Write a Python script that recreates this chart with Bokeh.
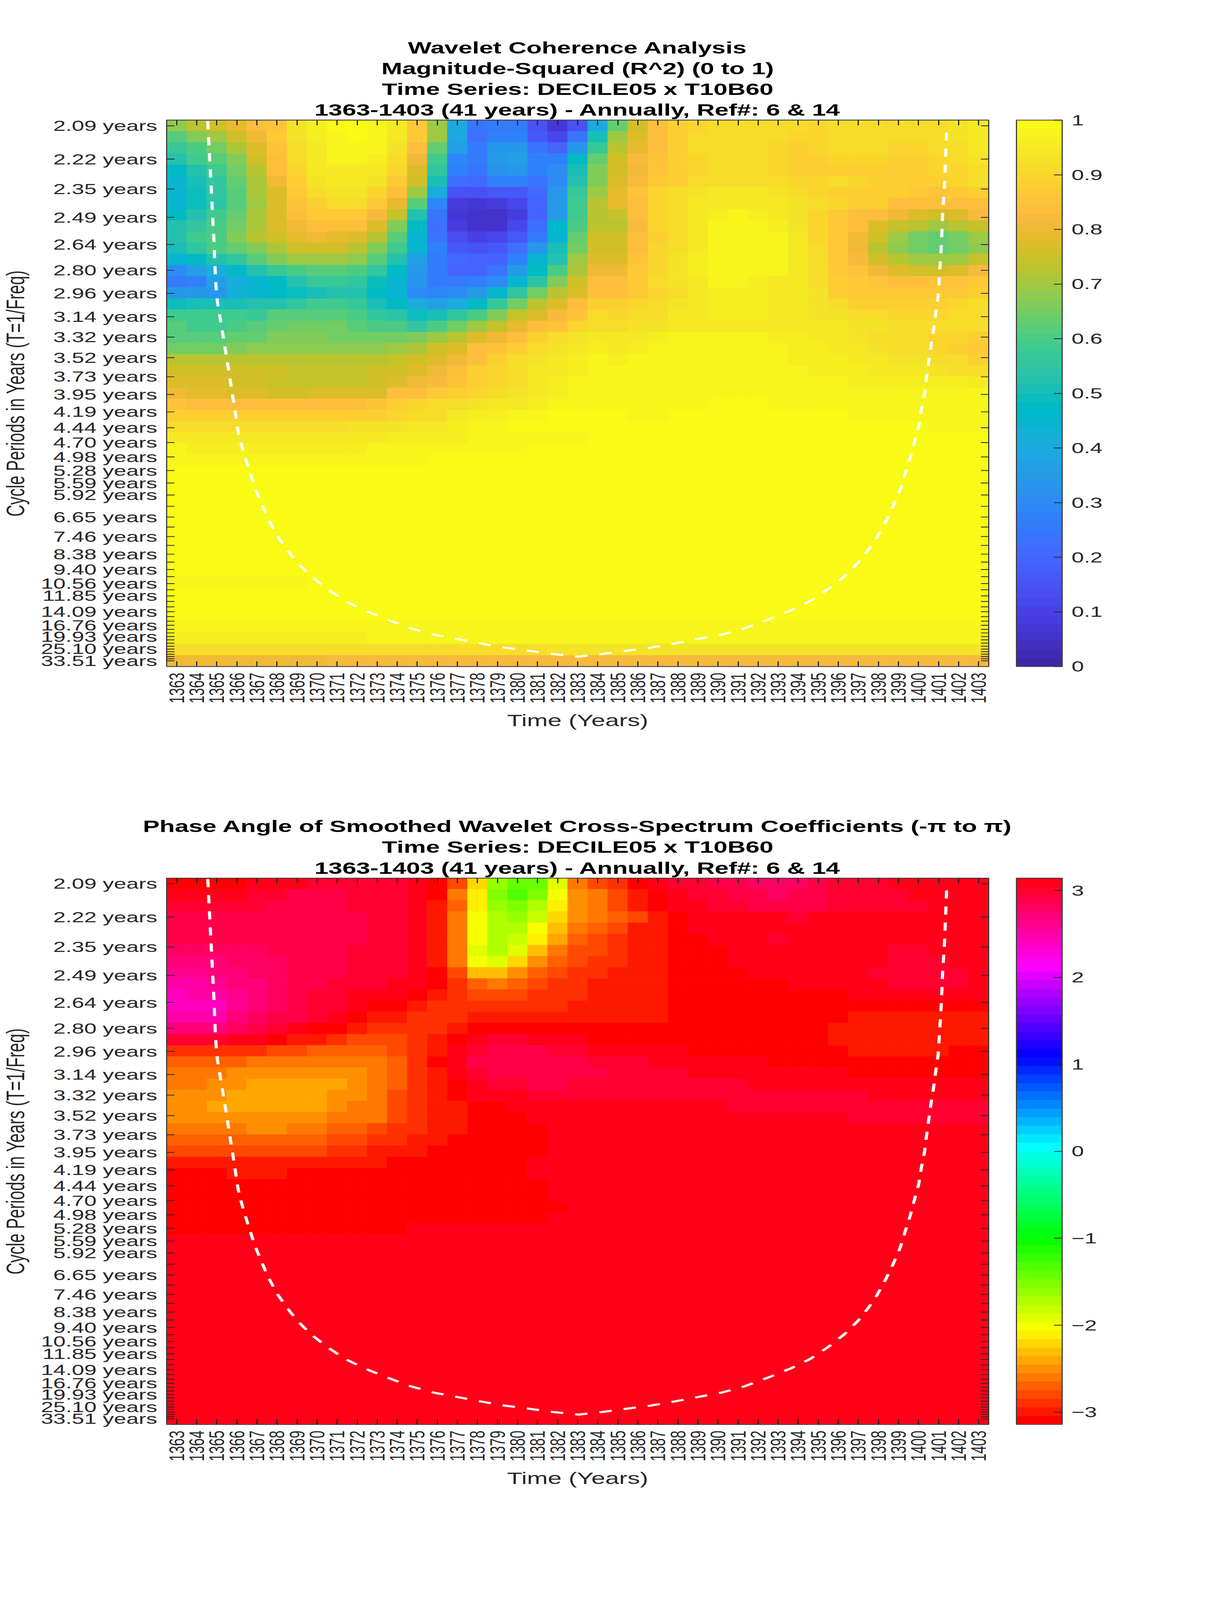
import colorsys
from bokeh.document import Document
from bokeh.embed import file_html
from bokeh.layouts import column
from bokeh.models import (ColorBar, ColumnDataSource, CustomJS, FixedTicker, LinearAxis,
                          LinearColorMapper, Range1d, Title)
from bokeh.plotting import figure
from bokeh.resources import INLINE
from bokeh.transform import transform

# ------------------------------------------------------------------ axes
years = list(range(1363, 1404))
periods = [2.09, 2.22, 2.35, 2.49, 2.64, 2.80, 2.96, 3.14, 3.32, 3.52, 3.73, 3.95, 4.19,
           4.44, 4.70, 4.98, 5.28, 5.59, 5.92, 6.27, 6.65, 7.04, 7.46, 7.90, 8.38, 8.88,
           9.40, 9.96, 10.56, 11.18, 11.85, 12.55, 13.30, 14.09, 14.93, 15.82, 16.76,
           17.75, 18.81, 19.93, 21.11, 22.37, 23.70, 25.10, 26.60, 28.18, 29.85, 31.63, 33.51]
labelled = [2.09, 2.22, 2.35, 2.49, 2.64, 2.80, 2.96, 3.14, 3.32, 3.52, 3.73, 3.95, 4.19,
            4.44, 4.70, 4.98, 5.28, 5.59, 5.92, 6.65, 7.46, 8.38, 9.40, 10.56, 11.85,
            14.09, 16.76, 19.93, 25.10, 33.51]

# ------------------------------------------------------------------ cone of influence
coi_years = [1364.55, 1364.86, 1364.94, 1365.03, 1365.43, 1365.83, 1366.07, 1366.32, 1366.63,
             1366.92, 1367.22, 1367.53, 1367.96, 1368.48, 1369.01, 1369.71, 1370.51, 1371.41,
             1372.40, 1373.50, 1374.68, 1375.77, 1376.96, 1378.17, 1379.36, 1380.65, 1381.84,
             1383.04, 1384.16, 1385.35, 1386.64, 1387.83, 1389.04, 1390.23, 1391.32, 1392.50,
             1393.60, 1394.59, 1395.49, 1396.29, 1396.99, 1397.52, 1397.92, 1398.35, 1398.72,
             1399.07, 1399.32, 1399.58, 1399.79, 1400.01, 1400.14, 1400.30, 1400.40, 1400.51,
             1400.63, 1400.76, 1400.86, 1400.98, 1401.13, 1401.20, 1401.30, 1401.40]
coi_periods = [2.073, 2.62, 2.87, 3.02, 3.44, 4.03, 4.51, 4.87, 5.29, 5.74, 6.17, 6.67, 7.35,
               8.10, 8.91, 9.94, 11.1, 12.5, 13.9, 15.5, 17.5, 19.2, 20.7, 22.5, 24.4, 26.2,
               28.2, 29.9, 28.2, 26.2, 24.4, 22.5, 20.7, 19.2, 17.5, 15.5, 13.9, 12.5, 11.1,
               9.94, 8.91, 8.10, 7.50, 6.83, 6.28, 5.79, 5.37, 5.00, 4.69, 4.41, 4.16, 3.94,
               3.74, 3.56, 3.39, 3.24, 3.11, 2.98, 2.66, 2.48, 2.32, 2.115]

# ------------------------------------------------------------------ coherence, in hundredths (top row first)
C00 = [68,73,76,79,83,85,93,96,99,100,97,95,87,69,40,24,26,25,15,7,15,40,64,75,83,88,90,92,92,92,91,91,90,91,92,92,92,92,92,93,94]
C01 = [61,67,70,75,81,87,93,96,98,100,98,95,87,69,40,22,27,28,17,12,24,50,70,78,84,88,91,92,92,92,91,90,90,92,92,92,91,91,92,93,94]
C02 = [57,60,65,71,78,85,91,95,97,98,97,93,83,63,36,25,33,33,24,20,34,57,73,79,84,88,91,91,91,91,90,88,90,91,92,91,90,90,91,92,94]
C03 = [52,58,62,67,76,84,91,95,97,97,96,92,80,58,29,26,35,36,28,27,47,63,75,82,85,88,90,91,91,91,90,88,89,90,90,90,88,88,90,91,93]
C04 = [47,52,58,65,73,83,90,94,95,95,95,90,78,55,28,24,32,33,28,30,50,66,75,81,85,88,90,91,91,91,90,89,89,89,89,89,89,89,90,90,92]
C05 = [44,50,55,63,71,81,89,93,94,94,93,87,75,50,23,21,27,27,24,30,52,67,78,82,86,89,91,91,91,91,91,90,90,91,90,89,88,88,89,90,91]
C06 = [45,49,55,62,71,78,87,92,93,93,90,84,69,41,15,15,17,17,21,33,57,70,79,85,90,91,93,94,94,94,93,92,90,89,89,88,88,87,85,87,88]
C07 = [45,49,54,62,70,78,85,89,91,91,87,79,61,29,8,7,8,12,20,35,59,73,79,83,90,91,94,95,95,95,95,93,92,90,88,88,84,84,84,84,84]
C08 = [47,53,59,63,71,77,84,87,87,87,82,74,53,24,7,5,5,8,20,35,59,73,74,83,90,92,94,96,97,96,95,93,90,86,84,83,81,78,76,77,82]
C09 = [53,56,60,65,71,77,81,83,83,83,77,67,47,23,9,5,6,12,23,46,60,73,73,82,90,91,94,97,98,97,96,93,90,86,83,77,74,72,70,72,74]
C10 = [53,59,60,66,72,75,79,81,79,78,72,62,45,24,14,10,11,17,26,45,64,75,75,84,89,92,95,98,98,98,97,94,90,86,81,75,69,65,64,65,69]
C11 = [51,56,60,64,67,71,75,75,75,73,67,58,44,27,17,15,16,23,34,50,65,76,76,84,90,92,94,97,98,98,97,95,92,86,80,73,68,65,63,65,68]
C12 = [45,47,53,56,62,66,69,69,69,68,62,53,37,26,21,19,20,28,44,53,69,77,77,85,90,93,96,98,98,98,97,95,92,86,82,76,72,69,69,70,74]
C13 = [30,36,41,47,53,57,60,61,61,60,55,48,34,26,20,20,24,35,47,60,71,80,80,86,90,93,96,97,98,98,97,95,92,87,85,81,78,76,76,78,82]
C14 = [26,28,36,41,45,47,52,57,57,55,49,44,33,26,26,27,30,45,54,67,75,83,83,86,91,93,95,97,97,96,95,94,92,88,87,85,84,84,85,85,87]
C15 = [34,34,34,43,45,47,49,50,53,52,48,44,31,29,30,35,45,55,65,72,78,83,84,87,90,92,94,96,96,96,95,94,93,89,87,87,87,87,87,87,89]
C16 = [49,50,50,51,52,53,56,58,59,57,51,47,41,37,42,47,57,65,72,77,83,88,88,90,91,93,95,96,96,96,94,94,93,91,89,89,89,89,89,90,91]
C17 = [59,58,58,58,57,61,62,62,62,60,56,54,49,50,55,60,67,74,77,82,85,91,90,92,92,94,94,96,96,96,94,94,93,93,91,91,90,90,90,91,91]
C18 = [61,59,59,60,62,64,65,65,65,62,60,60,55,60,65,70,74,79,83,85,90,92,91,93,93,95,95,95,95,95,95,95,94,94,93,93,91,91,91,91,91]
C19 = [62,62,62,63,64,66,66,66,65,65,65,65,66,70,73,78,80,84,88,91,93,95,94,95,96,97,97,97,97,97,96,96,95,95,93,92,91,91,90,90,88]
C20 = [65,65,65,67,68,68,68,68,68,68,68,70,71,75,78,83,85,88,91,93,94,96,95,96,97,98,98,98,98,98,98,96,96,95,95,93,91,91,90,89,87]
C21 = [72,72,72,72,72,72,72,72,72,72,72,74,76,78,81,84,89,91,93,95,96,97,96,97,98,98,98,98,98,98,98,96,96,96,95,95,93,93,92,92,88]
C22 = [76,75,75,75,75,75,74,74,74,74,76,76,77,80,84,88,90,92,94,95,96,97,97,97,98,98,98,98,98,98,98,98,96,96,96,94,94,94,93,92,92]
C23 = [77,77,77,76,76,74,74,74,74,74,76,78,80,82,85,88,90,92,94,96,98,97,97,98,98,98,98,98,98,98,98,98,98,98,96,96,96,96,96,96,94]
C24 = [81,79,79,77,77,76,76,78,77,77,78,83,84,86,89,90,91,93,94,96,97,97,97] + [98] * 18
C25 = [85,84,83,83,83,83,83,83,83,84,85,88,90,91,92,93,94,95,96,98,98,98,98,98,98,98,98,100,100,100,98,98,98,98,98,98,98,98,98,98,98]
C26 = [89,89,89,89,88,88,88,88,88,89,89,90,91,92,95,96,96,97,98,99,99,99,99,98,98,100,100,100,100,100,100,100,100,100,98,98,98,98,98,98,98]
C27 = [92,92,91,91,91,91,91,91,91,93,93,93,94,95,96,98,98,99,99,99,99,99,99,100,100,100,100,100,100,100,100,100,100,100,100,100,100,100,98,98,98]
C28 = [94] * 11 + [96] * 4 + [97] * 6 + [99] * 20
C29 = [98] + [96] * 9 + [98] * 8 + [100] * 23
C30 = [98] * 13 + [100] * 28
C31 = [100] * 41
C32 = [100] * 41
C33 = [100] * 41
C34 = [100] * 41
C35 = [100] * 41
C36 = [100] * 41
C37 = [100] * 41
C38 = [100] * 41
C39 = [100] * 41
C40 = [100] * 41
C41 = [98] * 7 + [100] * 34
C42 = [100] * 41
C43 = [100] * 41
C44 = [100] * 41
C45 = [97] * 10 + [98] * 31
C46 = [96] * 10 + [97] * 31
C47 = [92] * 19 + [93] * 22
C48 = [80] * 8 + [82] * 33
coherence = [C00,C01,C02,C03,C04,C05,C06,C07,C08,C09,C10,C11,C12,C13,C14,C15,C16,C17,C18,C19,
             C20,C21,C22,C23,C24,C25,C26,C27,C28,C29,C30,C31,C32,C33,C34,C35,C36,C37,C38,C39,
             C40,C41,C42,C43,C44,C45,C46,C47,C48]

# ------------------------------------------------------------------ phase angle, radians (top row first)
a, b, c, d, e, f, g, h = 3.09, 2.99, 2.90, 2.80, 2.70, 2.60, 2.50, 2.40
r0, r1, r2, r3, r4, r5, r6, r7, r8, r9 = -3.09, -2.99, -2.90, -2.80, -2.70, -2.60, -2.50, -2.40, -2.31, -2.21
r10, r11, r12, r13, r14, r15, r16, r17, r18 = -2.11, -2.01, -1.91, -1.82, -1.72, -1.62, -1.52, -1.42, -1.33
P00 = [r0]*4+[a]*3+[b]*5+[a,r0,r3,r9,r15,r17,r17,r12,r5,r3,r2,r0,a,b,b,c,c,d,d,d,c,b,b,b]+[a]*5
P01 = [a]*4+[b]*2+[c]*3+[b]*3+[a,r0,r5,r10,r16,r18,r16,r11,r6,r5,r3,r1,r0,a,b,b,c,c,d,c,c,b,b,b,b]+[a]*4
P02 = [b]*5+[c]*4+[b]*3+[a,r1,r4,r10,r15,r16,r14,r10,r6,r5,r3,r1,r0,a,a,b,b,c,c,c,c,b,b,b,b,b]+[a]*3
P03 = [c]*10+[b]*2+[a,r1,r5,r11,r14,r15,r13,r9,r6,r5,r4,r3,r1,r0]+[a]*5+[b]+[a]*9
P04 = [c]*10+[b]*2+[a,r1,r5,r11,r14,r14,r11,r8,r5,r4,r3,r1,r1,r0]+[a]*15
P05 = [c]*10+[b]*2+[a,r1,r5,r11,r14,r13,r10,r7,r4,r3,r2,r1,r1,r0,r0]+[a]*3+[b]+[a]*10
P06 = [d]*5+[c]*4+[b]*3+[a,r1,r5,r12,r14,r12,r8,r5,r3,r3,r2,r1,r1]+[r0]*3+[a]*8+[b]*2+[a]*3
P07 = [e]*3+[d]*3+[c]*3+[b]*3+[a,r1,r5,r11,r12,r9,r6,r4,r3,r2,r2,r1,r1]+[r0]*3+[a]*8+[b]*3+[a]*2
P08 = [f,f,e,e,d,d,c,c,c,b,b,b,a,r0,r3,r8,r8,r6,r4,r3,r2,r2,r1,r1,r1]+[r0]*4+[a]*6+[b]*5+[a]
P09 = [g,g,f,e,e,d,c,c,b,b,b,a,a,r0,r2,r4,r5,r4,r3,r2,r2,r1,r1,r1,r1]+[r0]*6+[a]*5+[b]*4+[a]
P10 = [h,g,g,f,e,d,c,b,b,a,a,a,r0,r1,r2,r3,r3,r3,r2,r2,r2,r1,r1,r1,r1]+[r0]*9+[a]*7
P11 = [h,h,h,f,e,d,c,b,b,a,r0,r0,r1]+[r2]*7+[r1]*5+[r0]*16
P12 = [g,g,g,e,d,c,c,b,a,r0,r1,r1]+[r2]*3+[r1]*10+[r0]*9+[r1]*7
P13 = [e,e,e,d,c,b,a,r0,r0,r1]+[r2]*4+[r1]+[r0]*18+[r1]*8
P14 = [b,b,b,a,a,r0,r1,r1,r2,r3,r3,r3,r2,r1,r0,a,b,b,a,a,a]+[r0]*12+[r1]*8
P15 = [r2]*5+[r3]*2+[r4]*4+[r3,r2,r1,a,b,c,c,c,b,b]+[a]*5+[r0]*8+[r1]*5+[r0]*2
P16 = [r4]*4+[r5]*7+[r4,r2,r0,a]+[c]*6+[b]*3+[a]*6+[r0]*11
P17 = [r5]*3+[r6]*7+[r5,r4,r2,r1,a,b]+[c]*6+[b]*4+[a]*8+[r0]*7
P18 = [r5,r5,r6,r6]+[r7]*5+[r6,r5,r4,r2,r1,r0,a,b,b,c,c]+[b]*9+[a]*12
P19 = [r6]*3+[r7]*5+[r6]*2+[r5,r3,r2,r1,r0]+[a]*3+[b]*17+[a]*6
P20 = [r6]*2+[r7]*6+[r6,r5,r5,r3,r2,r1,r1,r0,r0]+[a]*11+[b]*13
P21 = [r6]*8+[r5]*3+[r3,r2,r1,r1]+[r0]*3+[a]*16+[b]*7
P22 = [r5]*4+[r6]*2+[r5]*2+[r4]*2+[r3,r2,r2,r1,r1]+[r0]*4+[a]*22
P23 = [r4]*8+[r3]*2+[r2]*2+[r1]*2+[r0]*5+[a]*22
P24 = [r3]*8+[r2]*2+[r1]*3+[r0]*6+[a]*22
P25 = [r1]*11+[r0]*7+[a]*23
P26 = [r0]*3+[r1]*3+[r0]*12+[a]*23
P27 = [r0]*19+[a]*22
P28 = [r0]*19+[a]*22
P29 = [r0]*20+[a]*21
P30 = [r0]*19+[a]*22
P31 = [r0]*12+[a]*29
P_rest = [[a]*41 for _ in range(17)]
phase = [P00,P01,P02,P03,P04,P05,P06,P07,P08,P09,P10,P11,P12,P13,P14,P15,P16,P17,P18,P19,
         P20,P21,P22,P23,P24,P25,P26,P27,P28,P29,P30,P31] + P_rest

title_1 = ["Wavelet Coherence Analysis", "Magnitude-Squared (R^2) (0 to 1)",
           "Time Series: DECILE05 x T10B60", "1363-1403 (41 years) - Annually, Ref#: 6 & 14"]
title_2 = ["Phase Angle of Smoothed Wavelet Cross-Spectrum Coefficients (-\u03c0 to \u03c0)",
           "Time Series: DECILE05 x T10B60", "1363-1403 (41 years) - Annually, Ref#: 6 & 14"]

# ------------------------------------------------------------------ colour maps
parula_rgb = [(.2422,.1504,.6603),(.2504,.1650,.7076),(.2578,.1818,.7511),(.2647,.1978,.7952),
 (.2706,.2147,.8364),(.2751,.2342,.8710),(.2783,.2559,.8991),(.2803,.2782,.9221),(.2813,.3006,.9414),
 (.2810,.3228,.9579),(.2795,.3447,.9717),(.2760,.3667,.9829),(.2699,.3892,.9906),(.2602,.4123,.9952),
 (.2440,.4358,.9988),(.2206,.4603,.9973),(.1963,.4847,.9892),(.1834,.5074,.9798),(.1786,.5289,.9682),
 (.1764,.5499,.9520),(.1687,.5703,.9359),(.1540,.5902,.9218),(.1460,.6091,.9079),(.1380,.6276,.8973),
 (.1248,.6459,.8883),(.1113,.6635,.8763),(.0952,.6798,.8598),(.0689,.6948,.8394),(.0297,.7082,.8163),
 (.0036,.7203,.7917),(.0067,.7312,.7660),(.0433,.7411,.7394),(.0964,.7500,.7120),(.1408,.7584,.6842),
 (.1717,.7670,.6554),(.1938,.7758,.6251),(.2161,.7843,.5923),(.2470,.7918,.5567),(.2906,.7973,.5188),
 (.3406,.8008,.4789),(.3909,.8029,.4354),(.4456,.8024,.3909),(.5044,.7993,.3480),(.5616,.7942,.3045),
 (.6174,.7876,.2612),(.6720,.7793,.2227),(.7242,.7698,.1910),(.7738,.7598,.1646),(.8203,.7498,.1535),
 (.8634,.7406,.1596),(.9035,.7330,.1774),(.9393,.7288,.2100),(.9728,.7298,.2394),(.9956,.7434,.2371),
 (.9970,.7659,.2199),(.9952,.7893,.2028),(.9892,.8136,.1885),(.9786,.8386,.1766),(.9676,.8639,.1643),
 (.9610,.8890,.1537),(.9597,.9135,.1423),(.9628,.9373,.1265),(.9691,.9606,.1064),(.9769,.9839,.0805)]


def to_hex(rgb):
    return "#%02x%02x%02x" % tuple(int(round(v * 255)) for v in rgb)


parula = [to_hex(v) for v in parula_rgb]
hsv64 = [to_hex(colorsys.hsv_to_rgb(i / 64, 1, 1)) for i in range(64)]

TEXT = "#262626"
LINE = "#404040"
freq = [1 / t for t in periods]
step = (freq[0] - freq[-1]) / 48
f_top = freq[0] + step / 2
f_bot = freq[-1] - step / 2


def panel(matrix, titles, palette, low, high, cticks, top_border, bottom_border):
    mapper = LinearColorMapper(palette=palette, low=low, high=high)
    p = figure(frame_width=2104, frame_height=2135, output_backend="svg", toolbar_location=None,
               x_range=Range1d(1362.5, 1403.5), y_range=Range1d(f_bot, f_top),
               min_border_left=426, min_border_right=579,
               min_border_top=top_border, min_border_bottom=bottom_border,
               x_axis_label="Time (Years)", y_axis_label="Cycle Periods in Years (T=1/Freq)")
    left, right, bottom, top, z = [], [], [], [], []
    for i, row in enumerate(matrix):
        for j, v in enumerate(row):
            left.append(years[j] - 0.5)
            right.append(years[j] + 0.5)
            top.append(f_top - i * step)
            bottom.append(f_top - (i + 1) * step)
            z.append(v)
    src = ColumnDataSource(dict(left=left, right=right, top=top, bottom=bottom, z=z))
    p.quad(left="left", right="right", top="top", bottom="bottom", source=src,
           fill_color=transform("z", mapper), line_color=transform("z", mapper), line_width=1)
    p.line([float(y) for y in coi_years], [1 / t for t in coi_periods],
           line_color="white", line_width=8, line_dash="32 31")

    p.grid.visible = False
    p.outline_line_color = LINE
    p.outline_line_width = 3
    xticks = FixedTicker(ticks=years)
    yticks = FixedTicker(ticks=freq)
    yover = {1 / t: ("%.2f years" % t if t in labelled else "") for t in periods}

    for ax in (p.xaxis[0], p.yaxis[0]):
        ax.major_tick_in = 20
        ax.major_tick_out = 0
        ax.minor_tick_line_color = None
        ax.major_tick_line_color = TEXT
        ax.major_tick_line_width = 3
        ax.axis_line_color = LINE
        ax.axis_line_width = 3
        ax.major_label_text_font = "Liberation Sans"
        ax.major_label_text_color = TEXT
        ax.axis_label_text_font = "Liberation Sans"
        ax.axis_label_text_font_size = "64px"
        ax.axis_label_text_font_style = "normal"
        ax.axis_label_text_color = TEXT
    p.xaxis[0].major_label_text_font_size = "54px"
    p.yaxis[0].major_label_text_font_size = "57px"
    p.xaxis[0].ticker = xticks
    p.xaxis[0].major_label_orientation = 1.5707963
    p.xaxis[0].major_label_standoff = 24
    p.xaxis[0].axis_label_standoff = 28
    p.yaxis[0].ticker = yticks
    p.yaxis[0].major_label_overrides = yover
    p.yaxis[0].major_label_standoff = 24
    p.yaxis[0].axis_label_standoff = 26

    top_ax = LinearAxis(ticker=xticks, major_label_overrides={y: "" for y in years},
                        major_tick_in=20, major_tick_out=0, minor_tick_line_color=None,
                        major_tick_line_color=TEXT, major_tick_line_width=3,
                        major_label_standoff=0, axis_line_color=LINE, axis_line_width=3)
    p.add_layout(top_ax, "above")
    right_ax = LinearAxis(ticker=yticks, major_label_overrides={v: "" for v in freq},
                          major_tick_in=20, major_tick_out=0, minor_tick_line_color=None,
                          major_tick_line_color=TEXT, major_tick_line_width=3,
                          major_label_standoff=0, axis_line_color=LINE, axis_line_width=3)
    p.add_layout(right_ax, "right")

    for line in reversed(titles):
        p.add_layout(Title(text=line, align="center", text_font="Liberation Sans",
                           text_font_size="64px", text_font_style="bold", text_color="black",
                           standoff=7), "above")

    cb = ColorBar(color_mapper=mapper, ticker=FixedTicker(ticks=cticks), location=(2175, 0),
                  width=117, height=2135, margin=0, padding=0, major_tick_in=21,
                  major_tick_line_color=TEXT, major_tick_line_width=3, minor_tick_line_color=None,
                  bar_line_color=LINE, bar_line_width=3, label_standoff=24,
                  major_label_text_font="Liberation Sans", major_label_text_font_size="57px",
                  major_label_text_color=TEXT, background_fill_color=None, border_line_color=None)
    p.add_layout(cb)
    return p


coh = [[v / 100 for v in row] for row in coherence]
p1 = panel(coh, title_1, parula, 0, 1, [0, .1, .2, .3, .4, .5, .6, .7, .8, .9, 1], 469, 396)
p2 = panel(phase, title_2, hsv64, -3.14159265, 3.14159265, [-3, -2, -1, 0, 1, 2, 3], 431, 670)

page = column(p1, p2, spacing=0)
doc = Document()
doc.add_root(page)
# The browser window stops at about 4096px of height: once drawn, the page is fitted to it.
doc.js_on_event("document_ready", CustomJS(code="""
document.documentElement.style.height = 'auto';
document.body.style.height = 'auto';
document.body.style.overflow = 'visible';
document.body.style.transformOrigin = '0 0';
document.body.style.transform = 'scaleY(0.6551)';
"""))
open("out.html", "w").write(file_html(doc, INLINE))
